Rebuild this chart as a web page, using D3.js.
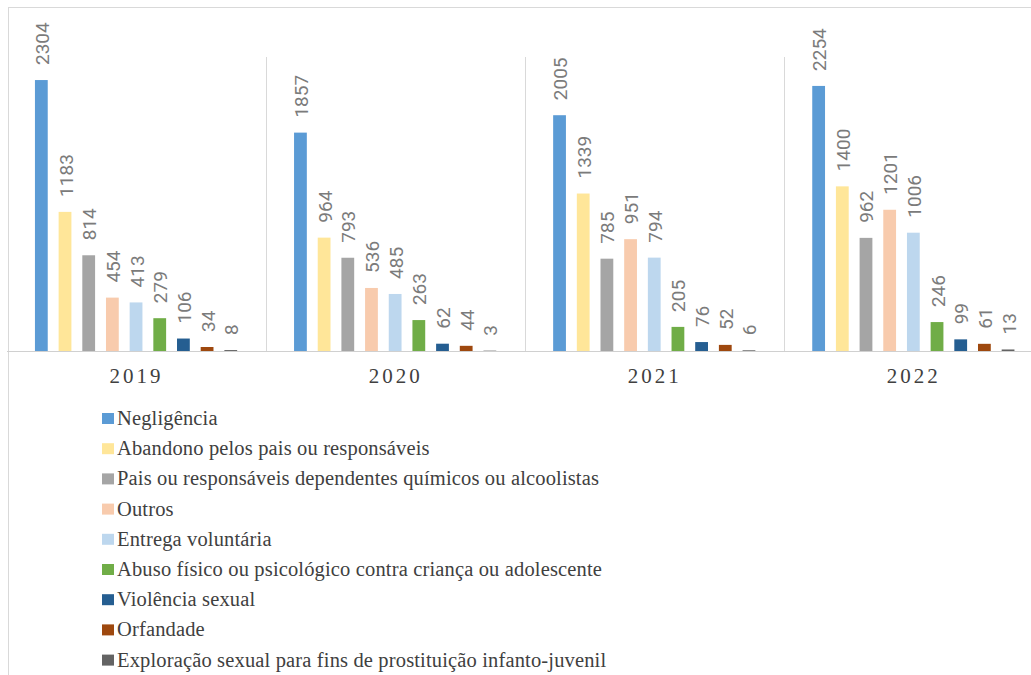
<!DOCTYPE html>
<html>
<head>
<meta charset="utf-8">
<script src="https://cdn.jsdelivr.net/npm/d3@7"></script>
<style>
  html, body { margin: 0; padding: 0; background: #fff; }
  svg { display: block; }
  .serif { font-family: "Liberation Serif", "Times New Roman", Roboto; }
  .value { font-family: Roboto, "Open Sans", sans-serif; }
</style>
</head>
<body>
<svg id="chart" width="1031" height="675"></svg>
<script>
// Categories (years) and series names
const years = ["2019", "2020", "2021", "2022"];
const seriesNames = [
  "Negligência",
  "Abandono pelos pais ou responsáveis",
  "Pais ou responsáveis dependentes químicos ou alcoolistas",
  "Outros",
  "Entrega voluntária",
  "Abuso físico ou psicológico contra criança ou adolescente",
  "Violência sexual",
  "Orfandade",
  "Exploração sexual para fins de prostituição infanto-juvenil"
];

// Values per series, one per year
const negligencia   = [2304, 1857, 2005, 2254];
const abandono      = [1183, 964, 1339, 1400];
const dependentes   = [814, 793, 785, 962];
const outros        = [454, 536, 951, 1201];
const entrega       = [413, 485, 794, 1006];
const abuso         = [279, 263, 205, 246];
const violencia     = [106, 62, 76, 99];
const orfandade     = [34, 44, 52, 61];
const exploracao    = [8, 3, 6, 13];

const seriesValues = [negligencia, abandono, dependentes, outros, entrega,
                      abuso, violencia, orfandade, exploracao];

const colors = ["#5B9BD5", "#FFE699", "#A5A5A5", "#F8CBAD", "#BDD7EE",
                "#70AD47", "#255E91", "#9E480E", "#636363"];

// Table for drawing: one row per year with nine values
const rows = years.map((yr, i) => ({
  year: yr,
  values: seriesNames.map((name, s) => ({ name, s, value: seriesValues[s][i] }))
}));

const svg = d3.select("#chart");

const plotLeft = 7, groupW = 259.1, plotTop = 57, baseY = 351;

const x0 = d3.scaleBand()
  .domain(years)
  .range([plotLeft, plotLeft + groupW * years.length])
  .paddingInner(0).paddingOuter(0);

const x1 = d3.scaleBand()
  .domain(d3.range(seriesNames.length))
  .range([22.5, groupW - 23.5])
  .paddingInner(0.46)
  .paddingOuter(0.23);

const y = d3.scaleLinear().domain([0, 2500]).range([baseY, plotTop]);

// Outer frame (top and left edges)
svg.append("line")
  .attr("x1", 8).attr("x2", 1031).attr("y1", 7.5).attr("y2", 7.5)
  .attr("stroke", "#d9d9d9").attr("stroke-width", 1);
svg.append("line")
  .attr("x1", 8.5).attr("x2", 8.5).attr("y1", 7).attr("y2", 675)
  .attr("stroke", "#d9d9d9").attr("stroke-width", 1);

// Category separators
svg.append("g").selectAll("line")
  .data(years.slice(1))
  .join("line")
  .attr("x1", d => Math.round(x0(d)) + 0.5)
  .attr("x2", d => Math.round(x0(d)) + 0.5)
  .attr("y1", y(2500))
  .attr("y2", baseY)
  .attr("stroke", "#d9d9d9").attr("stroke-width", 1);

// Bars
const groups = svg.append("g").selectAll("g")
  .data(rows)
  .join("g")
  .attr("transform", d => `translate(${x0(d.year)},0)`);

groups.selectAll("rect")
  .data(d => d.values)
  .join("rect")
  .attr("x", d => x1(d.s))
  .attr("width", x1.bandwidth())
  .attr("y", d => y(d.value))
  .attr("height", d => baseY - y(d.value))
  .attr("fill", d => colors[d.s]);

// Value labels, rotated
groups.selectAll("text")
  .data(d => d.values)
  .join("text")
  .attr("class", "value")
  .attr("transform", d => `translate(${x1(d.s) + x1.bandwidth() / 2 + 1},${y(d.value) - 15}) rotate(-90)`)
  .attr("text-anchor", "start")
  .attr("dominant-baseline", "central")
  .attr("font-size", 19)
  .attr("fill", "#7b7b7b")
  .text(d => d.value);

// Baseline (category axis line)
svg.append("line")
  .attr("x1", plotLeft).attr("x2", 1031)
  .attr("y1", baseY + 0.5).attr("y2", baseY + 0.5)
  .attr("stroke", "#d0d0d0").attr("stroke-width", 1);

// Year labels
const xAxis = d3.axisBottom(x0).tickSize(0).tickPadding(0);
const axisG = svg.append("g")
  .attr("transform", `translate(0,${baseY})`)
  .call(xAxis)
  .attr("font-family", null)
  .attr("font-size", null);
axisG.select(".domain").remove();
axisG.selectAll("text")
  .attr("class", "serif")
  .attr("y", 32)
  .attr("dy", 0)
  .attr("font-size", 21)
  .attr("letter-spacing", "3px")
  .attr("fill", "#404040");

// Legend
const legend = svg.append("g")
  .attr("transform", "translate(102,0)");
const item = legend.selectAll("g")
  .data(seriesNames)
  .join("g")
  .attr("transform", (d, i) => `translate(0,${425 + i * 30.2})`);
item.append("rect")
  .attr("x", 0).attr("y", -12)
  .attr("width", 12).attr("height", 11)
  .attr("fill", (d, i) => colors[i]);
item.append("text")
  .attr("class", "serif")
  .attr("x", 15).attr("y", 0)
  .attr("font-size", 20.5)
  .attr("letter-spacing", "0.15px")
  .attr("fill", "#404040")
  .text(d => d);
</script>
</body>
</html>
